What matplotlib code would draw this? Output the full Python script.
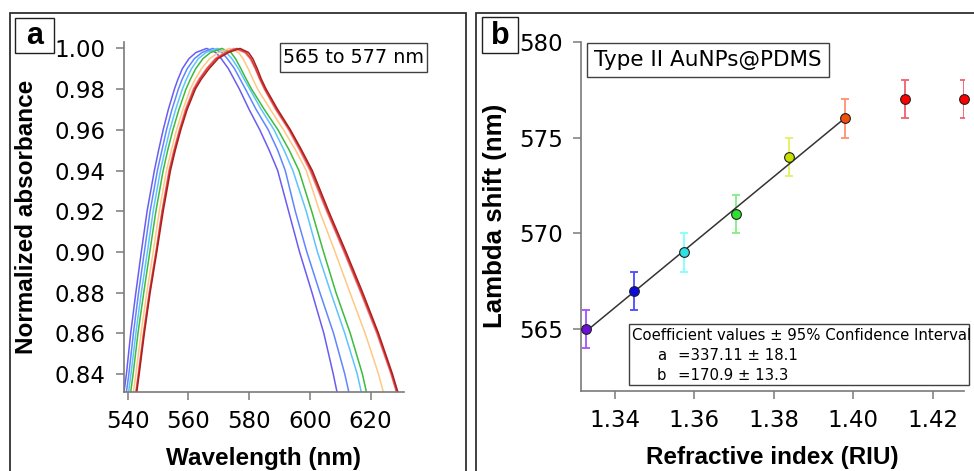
import matplotlib
matplotlib.use("Agg")
import matplotlib.pyplot as plt
from matplotlib.patches import Rectangle

# ---------------- data: panel a (spectra) ----------------
abs_left = [0.83, 0.84, 0.86, 0.88, 0.90, 0.92, 0.94, 0.95, 0.96, 0.97, 0.98, 0.985, 0.99, 0.995, 0.998, 1.00]
abs_right = [0.998, 0.995, 0.99, 0.985, 0.98, 0.97, 0.96, 0.95, 0.94, 0.92, 0.90, 0.88, 0.86, 0.84, 0.83]
abs_levels = abs_left + abs_right

wl_violet = [538.7, 539.6, 541.0, 542.7, 544.5, 546.4, 548.8, 550.2, 551.7, 553.4, 555.4, 556.6, 558.0, 560.2, 562.5, 566.0,
             569.0, 570.8, 573.2, 575.0, 576.8, 580.0, 583.5, 586.6, 589.4, 593.0, 596.6, 600.7, 604.6, 607.7, 609.1]
wl_blue = [539.5, 540.4, 541.9, 543.6, 545.5, 547.4, 549.8, 551.3, 552.8, 554.6, 556.7, 558.0, 559.6, 562.0, 564.5, 568.0,
           571.0, 572.8, 575.2, 577.0, 578.8, 582.3, 586.3, 589.4, 591.9, 595.2, 599.0, 603.3, 607.8, 611.5, 613.0]
wl_lightblue = [540.2, 541.1, 542.7, 544.5, 546.5, 548.4, 550.8, 552.3, 553.9, 555.8, 558.0, 559.4, 561.0, 563.3, 565.8, 569.5,
                572.5, 574.3, 576.5, 578.3, 580.2, 584.0, 588.2, 591.5, 594.4, 598.8, 602.5, 606.9, 611.5, 615.6, 617.1]
wl_green = [540.9, 541.8, 543.4, 545.3, 547.3, 549.3, 551.7, 553.2, 554.9, 556.9, 559.2, 560.7, 562.4, 564.8, 567.3, 571.0,
            574.0, 575.5, 577.3, 579.0, 580.8, 585.0, 589.5, 593.2, 596.4, 600.6, 604.5, 608.6, 613.3, 617.3, 618.8]
wl_orange = [541.8, 542.7, 544.4, 546.3, 548.4, 550.4, 552.8, 554.4, 556.1, 558.2, 560.6, 562.3, 564.3, 567.0, 570.0, 573.5,
             576.5, 578.0, 579.7, 581.2, 582.8, 587.0, 591.3, 595.3, 598.8, 603.2, 608.3, 613.2, 618.2, 622.6, 624.4]
wl_red1 = [542.7, 543.6, 545.3, 547.2, 549.4, 551.4, 553.8, 555.4, 557.2, 559.3, 561.9, 563.8, 566.2, 569.2, 572.5, 576.0,
           579.0, 580.6, 582.2, 583.6, 585.2, 589.0, 593.3, 597.0, 600.4, 605.8, 611.5, 617.0, 622.3, 626.9, 628.9]
wl_red2 = [542.9, 543.8, 545.5, 547.4, 549.6, 551.7, 554.1, 555.7, 557.5, 559.6, 562.3, 564.3, 566.8, 569.8, 573.2, 577.0,
           579.8, 581.2, 582.7, 584.0, 585.6, 589.4, 593.6, 597.3, 600.8, 606.2, 611.9, 617.4, 622.6, 627.2, 629.2]
wl_red3 = [542.6, 543.5, 545.2, 547.1, 549.3, 551.3, 553.6, 555.2, 557.0, 559.0, 561.6, 563.5, 565.9, 568.8, 572.0, 575.0,
           578.5, 580.3, 582.0, 583.4, 585.0, 588.7, 593.0, 596.6, 600.0, 605.5, 611.2, 616.7, 622.0, 626.7, 628.7]

spectra = [wl_violet, wl_blue, wl_lightblue, wl_green, wl_orange, wl_red3, wl_red1, wl_red2]
spectra_colors = ["#6a5cf2", "#5f86ff", "#5ec3ff", "#3dbb3d", "#ffc884",
                  "#f08a8a", "#e03a3a", "#a82020"]

xticks_a = [540, 560, 580, 600, 620]
yticks_a = [0.84, 0.86, 0.88, 0.90, 0.92, 0.94, 0.96, 0.98, 1.00]

# ---------------- data: panel b (lambda shift) ----------------
refractive_index = [1.3328, 1.3448, 1.3575, 1.3705, 1.3839, 1.3980, 1.4130, 1.4278]
lambda_shift = [565, 567, 569, 571, 574, 576, 577, 577]
lambda_err = [1, 1, 1, 1, 1, 1, 1, 1]
marker_colors = ["#6a10d8", "#0a0ae0", "#30e0e0", "#30e030", "#c8e000", "#f05008", "#ff0000", "#ff0000"]
err_colors = ["#a050ff", "#4a4aff", "#80ffff", "#80f080", "#e4f060", "#ff9070", "#f06070", "#f06070"]
fit_a, fit_b = 337.11, 170.9
n_fit = 6

xticks_b = [1.34, 1.36, 1.38, 1.40, 1.42]
yticks_b = [565, 570, 575, 580]

# ---------------- figure ----------------
W, H = 974, 471
fig = plt.figure(figsize=(W / 100, H / 100), dpi=100)

def fx(px):
    return px / W

def fy(py):
    return 1 - py / H

def frect(x0, y0, x1, y1, lw=1.0, ec="#303030", fc="none", z=5):
    r = Rectangle((fx(x0), fy(y1)), fx(x1) - fx(x0), fy(y0) - fy(y1),
                  transform=fig.transFigure, ec=ec, fc=fc, lw=lw, zorder=z)
    fig.add_artist(r)

label_font = dict(family="Liberation Sans", size=17.5, weight="bold")
spine_col = "#7a7a7a"

def style_axes(ax):
    for s in ["top", "right"]:
        ax.spines[s].set_visible(False)
    for s in ["left", "bottom"]:
        ax.spines[s].set_color(spine_col)
        ax.spines[s].set_linewidth(1.2)
    ax.tick_params(direction="out", length=6, width=1.1, color=spine_col,
                   labelsize=16.5, pad=7)
    for lab in ax.get_xticklabels() + ax.get_yticklabels():
        lab.set_family("DejaVu Sans")

# panel frames
frect(10, 12.5, 465.7, 480, lw=1.3)
frect(475.7, 12.5, 990, 480, lw=1.3)

# ---------- panel a ----------
axa = fig.add_axes([fx(123.7), fy(391.7), fx(404) - fx(123.7), fy(41.7) - fy(391.7)])
for wl, c in zip(spectra, spectra_colors):
    axa.plot(wl, abs_levels, color=c, lw=1.1)
axa.set_xlim(538.7, 631)
axa.set_ylim(0.8313, 1.0033)
axa.set_xticks(xticks_a)
axa.set_yticks(yticks_a)
axa.set_xticklabels([str(v) for v in xticks_a])
axa.set_yticklabels(["%.2f" % v for v in yticks_a])
style_axes(axa)
axa.set_xlabel("Wavelength (nm)", fontdict=label_font, labelpad=10)
axa.set_ylabel("Normalized absorbance", fontdict=label_font, labelpad=12)

# ---------- panel b ----------
axb = fig.add_axes([fx(581.3), fy(391), fx(963.7) - fx(581.3), fy(41.7) - fy(391)])
fit_x = [refractive_index[0], refractive_index[n_fit - 1]]
fit_y = [fit_a + fit_b * v for v in fit_x]
axb.plot(fit_x, fit_y, color="#333333", lw=1.1, zorder=2)
for xv, yv, ev, mc, ec in zip(refractive_index, lambda_shift, lambda_err, marker_colors, err_colors):
    axb.errorbar([xv], [yv], yerr=[ev], fmt="none", ecolor=ec, elinewidth=1.3,
                 capsize=3.2, capthick=1.3, zorder=1)
    axb.plot([xv], [yv], "o", ms=7, mfc=mc, mec="#202020", mew=0.8, zorder=3, clip_on=False)
axb.set_xlim(1.3316, 1.4278)
axb.set_ylim(561.77, 580)
axb.set_xticks(xticks_b)
axb.set_yticks(yticks_b)
axb.set_xticklabels(["%.2f" % v for v in xticks_b])
axb.set_yticklabels([str(v) for v in yticks_b])
style_axes(axb)
axb.set_xlabel("Refractive index (RIU)", fontdict=label_font, labelpad=10)
axb.set_ylabel("Lambda shift (nm)", fontdict=dict(label_font, size=18.6), labelpad=9)

# ---------- annotation boxes ----------
frect(15, 18.3, 54.3, 53.3, lw=1.0, ec="#202020", fc="white", z=6)
fig.text(fx(34.7), fy(36.5), "a", ha="center", va="center", fontsize=22,
         fontweight="bold", family="Liberation Sans", zorder=7)
frect(481.7, 17.3, 518.3, 53.3, lw=1.0, ec="#202020", fc="white", z=6)
fig.text(fx(500), fy(35.5), "b", ha="center", va="center", fontsize=22,
         fontweight="bold", family="Liberation Sans", zorder=7)

frect(280, 43.3, 427, 71.7, lw=1.0, ec="#404040", fc="white", z=6)
fig.text(fx(353.5), fy(57.5), "565 to 577 nm", ha="center", va="center",
         fontsize=13.8, family="DejaVu Sans", zorder=7)

frect(587, 43.3, 829, 76.7, lw=1.0, ec="#404040", fc="white", z=6)
fig.text(fx(708), fy(60.5), "Type II AuNPs@PDMS", ha="center", va="center",
         fontsize=15.5, family="DejaVu Sans", zorder=7)

frect(629.3, 324.3, 969.3, 385, lw=1.0, ec="#404040", fc="white", z=6)
fig.text(fx(631.7), fy(335), "Coefficient values \u00b1 95% Confidence Interval",
         ha="left", va="center", fontsize=10.7, family="DejaVu Sans", zorder=7)
fig.text(fx(656.7), fy(355.5), "a", ha="left", va="center", fontsize=10.7,
         family="DejaVu Sans", zorder=7)
fig.text(fx(678.3), fy(355.5), "=337.11 \u00b1 18.1", ha="left", va="center",
         fontsize=10.7, family="DejaVu Sans", zorder=7)
fig.text(fx(656.7), fy(375), "b", ha="left", va="center", fontsize=10.7,
         family="DejaVu Sans", zorder=7)
fig.text(fx(678.3), fy(375), "=170.9 \u00b1 13.3", ha="left", va="center",
         fontsize=10.7, family="DejaVu Sans", zorder=7)

fig.savefig("out.png", dpi=100)
